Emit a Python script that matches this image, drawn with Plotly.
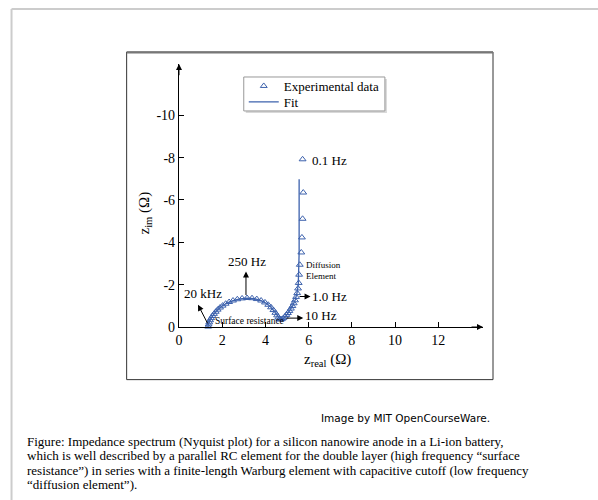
import plotly.graph_objects as go

# Measured impedance, high frequency (20 kHz) down to 0.1 Hz
z_real_exp = [1.35, 1.37, 1.40, 1.44, 1.49, 1.55, 1.62, 1.70, 1.79, 1.90,
              2.02, 2.16, 2.32, 2.50, 2.70, 2.92, 3.15, 3.38, 3.60, 3.80,
              3.98, 4.13, 4.26, 4.37, 4.46, 4.54, 4.60, 4.65, 4.70, 4.76,
              4.83, 4.90, 4.97, 5.04, 5.11, 5.18, 5.25, 5.31, 5.37, 5.42,
              5.47, 5.51, 5.54, 5.56, 5.59, 5.66, 5.69, 5.72, 5.75, 5.72]
z_im_exp = [-0.02, -0.12, -0.22, -0.32, -0.42, -0.52, -0.62, -0.72, -0.82, -0.92,
            -1.01, -1.10, -1.18, -1.25, -1.31, -1.35, -1.37, -1.36, -1.32, -1.25,
            -1.16, -1.05, -0.93, -0.80, -0.67, -0.55, -0.45, -0.38, -0.35, -0.37,
            -0.42, -0.49, -0.57, -0.66, -0.76, -0.87, -0.99, -1.12, -1.26, -1.42,
            -1.60, -1.82, -2.08, -2.47, -2.94, -3.52, -4.23, -5.11, -6.35, -7.92]

# Equivalent-circuit fit (RC || double layer + finite-length Warburg)
z_real_fit = [1.34, 1.36, 1.42, 1.50, 1.62, 1.78, 1.98, 2.22, 2.50, 2.82,
              3.15, 3.48, 3.78, 4.04, 4.25, 4.42, 4.55, 4.65, 4.74, 4.85,
              4.98, 5.12, 5.26, 5.38, 5.46, 5.52, 5.55, 5.56, 5.56, 5.56]
z_im_fit = [0.00, -0.15, -0.30, -0.45, -0.62, -0.80, -0.98, -1.13, -1.25, -1.33,
            -1.36, -1.34, -1.26, -1.12, -0.94, -0.73, -0.53, -0.40, -0.36, -0.42,
            -0.56, -0.76, -1.00, -1.28, -1.60, -2.00, -2.60, -3.50, -5.00, -6.98]

x_ticks = [0, 2, 4, 6, 8, 10, 12]
x_tick_labels = ["0", "2", "4", "6", "8", "10", "12"]
y_ticks = [0, -2, -4, -6, -8, -10]
y_tick_labels = ["0", "-2", "-4", "-6", "-8", "-10"]

X_MAX = 14.07
Y_MIN = -12.42

BLUE = "#3d62ad"
SERIF = "Liberation Serif, Times New Roman, serif"

# pixel geometry of the page
W, H = 598, 500
PL, PR, PT, PB = 179.3, 483.0, 64.0, 327.3


def px(xp):
    return (xp - PL) / (PR - PL)


def py(yp):
    return (PB - yp) / (PB - PT)


fig = go.Figure()

fig.add_trace(go.Scatter(
    x=z_real_fit, y=z_im_fit, mode="lines", name="Fit",
    line=dict(color=BLUE, width=1.3), cliponaxis=False, legend="legend2",
))
fig.add_trace(go.Scatter(
    x=z_real_exp, y=z_im_exp, mode="markers", name="Experimental data",
    marker=dict(symbol="triangle-up-open", size=6, color=BLUE,
                line=dict(width=1, color=BLUE)),
    cliponaxis=False, legend="legend",
))

shapes = [
    # page panel edges
    dict(type="line", xref="paper", yref="paper", x0=px(12), x1=px(620),
         y0=py(9), y1=py(9), line=dict(color="#cccccc", width=2)),
    dict(type="line", xref="paper", yref="paper", x0=px(12), x1=px(12),
         y0=py(9), y1=py(520), line=dict(color="#cccccc", width=2)),
    # figure frame
    dict(type="rect", xref="paper", yref="paper", x0=px(127), x1=px(493),
         y0=py(380), y1=py(52), line=dict(color="#333333", width=1)),
    dict(type="line", xref="paper", yref="paper", x0=px(127), x1=px(493),
         y0=py(52.5), y1=py(52.5), line=dict(color="#777777", width=2)),
    # legend box with shadow
    dict(type="rect", xref="paper", yref="paper", x0=px(246), x1=px(387),
         y0=py(113), y1=py(79), line=dict(width=0), fillcolor="#d8d8d8"),
    dict(type="rect", xref="paper", yref="paper", x0=px(244), x1=px(385),
         y0=py(111), y1=py(77), line=dict(color="#999999", width=1),
         fillcolor="white"),
]

arrow_common = dict(xref="x", yref="y", axref="x", ayref="y", text="",
                    showarrow=True, arrowcolor="black", arrowwidth=1,
                    arrowhead=2, arrowsize=1.2, standoff=0)

annotations = [
    # axis arrowheads
    dict(x=X_MAX, y=0, ax=X_MAX - 0.6, ay=0, **arrow_common),
    dict(x=0, y=Y_MIN, ax=0, ay=Y_MIN + 0.6, **arrow_common),
    # frequency markers
    dict(x=0.88, y=-1.05, ax=1.36, ay=-0.10, **arrow_common),
    dict(x=3.10, y=-2.62, ax=3.10, ay=-1.44, **arrow_common),
    dict(x=6.09, y=-1.44, ax=5.51, ay=-1.44, **arrow_common),
    dict(x=5.75, y=-0.42, ax=4.90, ay=-0.42, **arrow_common),
]


def label(x, y, text, size=13, xanchor="center"):
    return dict(x=x, y=y, xref="x", yref="y", text=text, showarrow=False,
                xanchor=xanchor, yanchor="middle",
                font=dict(family=SERIF, size=size, color="black"))


annotations += [
    label(1.10, -1.60, "20 kHz"),
    label(3.15, -3.09, "250 Hz"),
    label(6.08, -1.44, "1.0 Hz", xanchor="left"),
    label(5.73, -0.53, "10 Hz", xanchor="left"),
    label(6.07, -7.86, "0.1 Hz", xanchor="left"),
    label(5.80, -2.94, "Diffusion", size=9, xanchor="left"),
    label(5.80, -2.39, "Element", size=9, xanchor="left"),
    label(1.56, -0.26, "Surface resistance", size=9.5, xanchor="left"),
]

# axis titles
annotations += [
    dict(xref="paper", yref="paper", x=px(328), y=py(360), showarrow=False,
         text="z<sub>real</sub> (Ω)", xanchor="center", yanchor="middle",
         font=dict(family=SERIF, size=15, color="black")),
    dict(xref="paper", yref="paper", x=px(145), y=py(213), showarrow=False,
         text="z<sub>im</sub> (Ω)", textangle=-90, xanchor="center",
         yanchor="middle", font=dict(family=SERIF, size=15, color="black")),
]

# credit and caption
annotations.append(dict(
    xref="paper", yref="paper", x=px(492), y=py(418), showarrow=False,
    text="Image by MIT OpenCourseWare.", xanchor="right", yanchor="middle",
    font=dict(family="DejaVu Sans, Verdana, sans-serif", size=10.5,
              color="black")))

caption = [
    "Figure: Impedance spectrum (Nyquist plot) for a silicon nanowire anode in a Li-ion battery,",
    "which is well described by a parallel RC element for the double layer (high frequency \u201csurface",
    "resistance\u201d) in series with a finite-length Warburg element with capacitive cutoff (low frequency",
    "\u201cdiffusion element\u201d).",
]
for i, line in enumerate(caption):
    annotations.append(dict(
        xref="paper", yref="paper", x=px(25), y=py(441.7 + 14.5 * i),
        showarrow=False, text=line, xanchor="left", yanchor="middle",
        font=dict(family=SERIF, size=13, color="black")))

axis_common = dict(
    showgrid=False, zeroline=False, showline=True, linecolor="black",
    linewidth=1.2, ticks="inside", ticklen=5, tickcolor="black",
    tickwidth=1, tickmode="array",
    tickfont=dict(family=SERIF, size=14, color="black"),
)

fig.update_layout(
    width=W, height=H,
    margin=dict(l=PL, r=W - PR, t=PT, b=H - PB, pad=0),
    paper_bgcolor="white", plot_bgcolor="rgba(0,0,0,0)",
    xaxis=dict(range=[0, X_MAX], tickvals=x_ticks, ticktext=x_tick_labels,
               **axis_common),
    yaxis=dict(range=[0, Y_MIN], tickvals=y_ticks, ticktext=y_tick_labels,
               **axis_common),
    showlegend=True,
    legend=dict(x=px(244), y=py(71), xanchor="left", yanchor="top",
                bgcolor="rgba(0,0,0,0)", borderwidth=0,
                font=dict(family=SERIF, size=13, color="black")),
    legend2=dict(x=px(244), y=py(87), xanchor="left", yanchor="top",
                 bgcolor="rgba(0,0,0,0)", borderwidth=0,
                 font=dict(family=SERIF, size=13, color="black")),
    shapes=shapes,
    annotations=annotations,
)

fig.write_html("out.html")
